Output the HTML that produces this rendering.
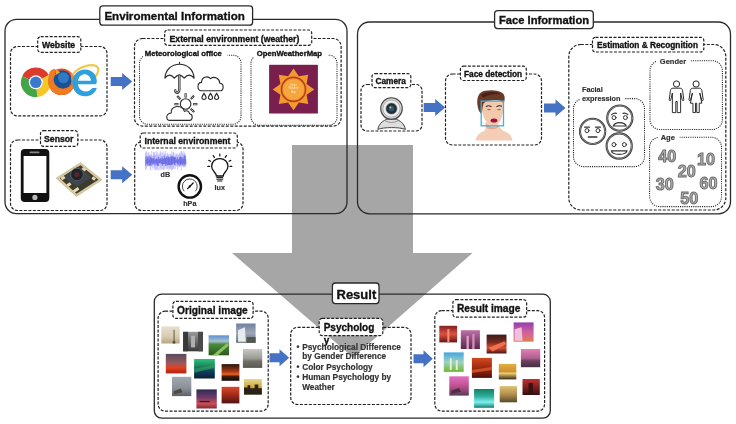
<!DOCTYPE html>
<html><head><meta charset="utf-8">
<style>
html,body{margin:0;padding:0;background:#fff;width:736px;height:424px;overflow:hidden}
svg{display:block;position:absolute;left:0;top:0;will-change:transform}
text{font-family:"Liberation Sans",sans-serif;font-weight:bold;fill:#111;stroke:#111;stroke-width:0.33}
.solid{fill:none;stroke:#2a2a2a;stroke-width:1.3}
.dash{fill:none;stroke:#222;stroke-width:1.2;stroke-dasharray:3 1.5}
.dot{fill:none;stroke:#222;stroke-width:1.05;stroke-dasharray:1.1 1.1}
.lab{fill:#fff;stroke:#222;stroke-width:1.2;stroke-dasharray:3 1.5}
.tit{fill:#fff;stroke:#2a2a2a;stroke-width:1.3}
.ba{fill:#4472c4}
</style></head><body>
<svg width="736" height="424" viewBox="0 0 736 424">
<!-- big gray arrow -->
<polygon points="292,145 413,145 413,253 472.5,253 353,357.5 232,253 292,253" fill="#a6a6a6"/>

<!-- outer boxes -->
<rect class="solid" x="5" y="19.4" width="342" height="194.2" rx="11.5"/>
<rect class="solid" x="357.5" y="22" width="373" height="191.8" rx="12"/>
<rect class="solid" x="154.3" y="294.2" width="396" height="124" rx="7.5"/>

<!-- dashed boxes env -->
<rect class="dash" x="10.5" y="46.5" width="96.5" height="69.4" rx="7"/>
<rect class="dash" x="10.5" y="140" width="96.5" height="70.5" rx="7"/>
<rect class="dash" x="134.5" y="38.5" width="206.6" height="87.6" rx="8"/>
<rect class="dash" x="134.7" y="142" width="108.3" height="68.5" rx="7"/>
<!-- dotted -->
<rect class="dot" x="139.5" y="55.2" width="101.5" height="69" rx="8"/>
<rect class="dot" x="251" y="55.2" width="86" height="70" rx="8"/>

<!-- face info dashed -->
<rect class="dash" x="361" y="84.5" width="61" height="46.5" rx="6"/>
<rect class="dash" x="445.5" y="74" width="96" height="71" rx="7"/>
<rect class="dash" x="568.8" y="44.5" width="157" height="165.5" rx="12"/>
<rect class="dot" x="573.5" y="98.6" width="71" height="68" rx="10"/>
<rect class="dot" x="650" y="60.7" width="72.4" height="68.8" rx="10"/>
<rect class="dot" x="649.6" y="137.3" width="71.9" height="69.3" rx="10"/>

<!-- result dashed -->
<rect class="dash" x="158.1" y="311.2" width="110.1" height="99.9" rx="7"/>
<rect class="dash" x="290.7" y="327.3" width="120.3" height="77.2" rx="7"/>
<rect class="dash" x="434.8" y="310.6" width="109.8" height="100.5" rx="7"/>

<!-- titles -->
<rect class="tit" x="99.8" y="5.9" width="152.8" height="19.3" rx="3"/>
<text x="104.4" y="20" font-size="11.6">Enviromental Information</text>
<rect class="tit" x="494.6" y="10.6" width="98.7" height="18" rx="3"/>
<text x="499" y="24" font-size="11.2">Face Information</text>
<rect class="tit" x="332.4" y="283" width="46.6" height="20.6" rx="3"/>
<text x="336.5" y="298.5" font-size="13">Result</text>

<!-- labels -->
<rect class="lab" x="37.7" y="36.7" width="43.1" height="15.7" rx="3"/>
<text x="42" y="48" font-size="8.7">Website</text>
<rect class="lab" x="40.5" y="130.6" width="37.3" height="15.8" rx="3"/>
<text x="44" y="142" font-size="8.7">Sensor</text>
<rect class="lab" x="164.6" y="30" width="147.1" height="15.3" rx="3"/>
<text x="169.5" y="41.5" font-size="8.7">External environment (weather)</text>
<rect class="lab" x="140.2" y="133" width="97.1" height="15" rx="3"/>
<text x="144.5" y="144.3" font-size="8.7">Internal environment</text>
<rect class="lab" x="372" y="73.6" width="38.8" height="14" rx="3"/>
<text x="375.5" y="84" font-size="8.3">Camera</text>
<rect class="lab" x="460.4" y="66.2" width="65.9" height="14.3" rx="3"/>
<text x="464" y="77" font-size="8.3">Face detection</text>
<rect class="lab" x="592.5" y="37.3" width="111.3" height="14.7" rx="3"/>
<text x="597" y="48" font-size="8.3">Estimation &amp; Recognition</text>
<rect class="lab" x="172.9" y="301.4" width="80.2" height="17" rx="3"/>
<text x="177" y="313.8" font-size="10.2">Original image</text>
<rect class="lab" x="452.9" y="299.7" width="73.7" height="17.4" rx="3"/>
<text x="457" y="312.3" font-size="10.2">Result image</text>
<rect class="lab" x="319.2" y="318.4" width="63.6" height="17.2" rx="3"/>
<text x="323.7" y="330.8" font-size="10">Psycholog</text>
<text x="323.7" y="343.6" font-size="10">y</text>

<!-- dotted box titles (white bg) -->
<rect x="143" y="49" width="84.5" height="9" fill="#fff"/>
<text x="144.8" y="56.3" font-size="7.7">Meteorological office</text>
<rect x="254" y="49" width="74" height="9" fill="#fff"/>
<text x="256.8" y="56.3" font-size="7.7">OpenWeatherMap</text>
<rect x="656" y="56" width="34.5" height="9" fill="#fff"/>
<text x="659.8" y="63.5" font-size="7.5" style="fill:#333;stroke:#333;stroke-width:0.18">Gender</text>
<rect x="658" y="133" width="21.5" height="9" fill="#fff"/>
<text x="660.7" y="140.2" font-size="7.5" style="fill:#333;stroke:#333;stroke-width:0.18">Age</text>
<rect x="580" y="92" width="45" height="10" fill="#fff"/>
<text x="582" y="92" font-size="7.3" style="fill:#333;stroke:#333;stroke-width:0.18">Facial</text>
<text x="582" y="100.6" font-size="7.3" style="fill:#333;stroke:#333;stroke-width:0.18">expression</text>

<!-- blue arrows -->
<g class="ba">
<polygon points="0,-4.5 11.5,-4.5 11.5,-8.5 21.5,0 11.5,8.5 11.5,4.5 0,4.5" transform="translate(110.7,81.4)"/>
<polygon points="0,-4.5 11.5,-4.5 11.5,-8.5 21.5,0 11.5,8.5 11.5,4.5 0,4.5" transform="translate(110.7,174.7)"/>
<polygon points="0,-4.5 11.5,-4.5 11.5,-8.5 21.5,0 11.5,8.5 11.5,4.5 0,4.5" transform="translate(423.7,107.6)"/>
<polygon points="0,-4.5 11.5,-4.5 11.5,-8.5 21.5,0 11.5,8.5 11.5,4.5 0,4.5" transform="translate(544,107.9)"/>
<polygon points="0,-4.5 10,-4.5 10,-8.5 19.7,0 10,8.5 10,4.5 0,4.5" transform="translate(269.5,357.7)"/>
<polygon points="0,-4.5 10,-4.5 10,-8.5 19.3,0 10,8.5 10,4.5 0,4.5" transform="translate(413.5,358.7)"/>
</g>

<!-- bullets -->
<g font-size="8.3" style="fill:#333;stroke:#333;stroke-width:0.18">
<text x="296.5" y="349.5" style="fill:#333;stroke:#333;stroke-width:0.18">•</text>
<text x="302.2" y="349.5" style="fill:#333;stroke:#333;stroke-width:0.18">Psychological Difference</text>
<text x="302.2" y="359.3" style="fill:#333;stroke:#333;stroke-width:0.18">by Gender Difference</text>
<text x="296.5" y="369.5" style="fill:#333;stroke:#333;stroke-width:0.18">•</text>
<text x="302.2" y="369.5" style="fill:#333;stroke:#333;stroke-width:0.18">Color Psychology</text>
<text x="296.5" y="379.8" style="fill:#333;stroke:#333;stroke-width:0.18">•</text>
<text x="302.2" y="379.8" style="fill:#333;stroke:#333;stroke-width:0.18">Human Psychology by</text>
<text x="302.2" y="389.6" style="fill:#333;stroke:#333;stroke-width:0.18">Weather</text>
</g>
<!-- ICONS1 -->
<g id="chrome"><path d="M35.8,82.3 L22.19,76.24 A14.9,14.9 0 0 1 48.83,75.08 Z" fill="#dc3b2c"/><path d="M35.8,82.3 L48.83,75.08 A14.9,14.9 0 0 1 37.36,97.12 Z" fill="#f5c625"/><path d="M35.8,82.3 L37.36,97.12 A14.9,14.9 0 0 1 22.19,76.24 Z" fill="#43a548"/><circle cx="35.8" cy="82.3" r="7" fill="#fff"/><circle cx="35.8" cy="82.3" r="5.8" fill="#3b78cf"/></g>
<g id="firefox">
<circle cx="61.6" cy="81.8" r="13.3" fill="#e2541c"/>
<circle cx="62.2" cy="79.6" r="9.4" fill="#1b4f96"/>
<circle cx="63.4" cy="77.8" r="5.5" fill="#2f7ac4"/>
<path d="M49.5,72 C51,69.5 53.5,68.6 55.5,69 C54.5,71 54.5,73 56,74.5 C53.8,76 53,79 54,82 C55.5,86.5 60,89.2 65,88.6 C69,88 72,85.5 73.8,82.6 C73.6,89.6 68,95 61.6,95.1 C54.2,95.2 48.3,89.2 48.3,81.8 C48.3,78.2 48.8,74.8 49.5,72 Z" fill="#f07c22"/>
<path d="M55.5,69 C57,70.2 58.6,70.4 60,72.5 C58,73.5 57,75 56,74.5 Z" fill="#f5a030"/>
<path d="M70.5,71.4 C73.5,74 75,78 74.9,81.8 C74.6,85.5 73,88.3 70,90.5 C72,86.5 72.2,82 71,77.5 Z" fill="#f28a24"/>
</g>
<g id="ie">
<path d="M72.8,74.5 C78,67 92,62.8 97,66.5 C99.5,68.6 98,73 95.5,76.5" fill="none" stroke="#f2c84a" stroke-width="2.2"/>
<path d="M95.6,84.2 H78 C78.4,88.6 81.6,91.4 85.6,91.4 C88.6,91.4 91,90 92.4,88 H96.8 C95,93.6 90.6,96.3 85,96.3 C77.5,96.3 72.2,90.4 72.2,82.8 C72.2,75.2 77.8,69.5 85,69.5 C92.4,69.5 97.2,75 96.8,82.5 Z M78.2,80.6 H90.8 C90.4,76.8 88,74.4 84.6,74.4 C81.2,74.4 78.8,76.8 78.2,80.6 Z" fill="#2f9fdd"/>
<path d="M78.2,80.6 H90.8 C90.4,76.8 88,74.4 84.6,74.4 C81.2,74.4 78.8,76.8 78.2,80.6 Z" fill="#fff"/>
</g>
<g id="phone">
<rect x="20.8" y="149.1" width="28.5" height="53" rx="4" fill="#111"/>
<rect x="23.6" y="156" width="22.8" height="37" fill="#fff"/>
<rect x="29.5" y="151.6" width="10" height="1.6" rx="0.8" fill="#888"/>
<circle cx="34.9" cy="197.4" r="2.6" fill="#bbb"/>
</g>
<g id="cammod">
<polygon points="56.2,178.2 80.6,162.7 101.8,179.8 76.4,196.4" fill="#d9caa0" stroke="#b8a878" stroke-width="0.6"/>
<polygon points="59.8,178.3 80.6,165.2 98.4,179.7 76.5,193.8" fill="#3e3b2e"/>
<polygon points="63.5,176.5 78,166.5 91.5,177 77,187" fill="#3f474c"/>
<circle cx="77" cy="174.5" r="6.3" fill="#1e2428" stroke="#5a656c" stroke-width="0.8"/>
<circle cx="77" cy="174.5" r="2.6" fill="#5a2430"/>
<g fill="#e6dab4">
<rect x="61" y="176.5" width="4" height="3" transform="rotate(-33 63 178)"/>
<rect x="67" y="183" width="4" height="3" transform="rotate(-33 69 184.5)"/>
<rect x="92" y="177" width="3.5" height="3" transform="rotate(40 93.7 178.5)"/>
<rect x="73" y="188.5" width="6" height="3" transform="rotate(-33 76 190)"/>
<rect x="82" y="168" width="4" height="2.5" transform="rotate(40 84 169.2)"/>
</g>
</g>
<!-- /ICONS1 -->
<!-- ICONS2 -->
<g id="weather" fill="none" stroke="#2a2a2a" stroke-width="1.1" stroke-linejoin="round" stroke-linecap="round">
<path d="M179.5,62.4 V64.3"/>
<path d="M164.9,78.2 C165.5,69.5 171.5,64.3 179.5,64.3 C187.5,64.3 193.5,69.5 194.1,78.2 Q189.2,72 184.2,78.2 Q179.3,72 174.3,78.2 Q169.6,72 164.9,78.2 Z" fill="#fff"/>
<path d="M179.3,75.5 V89.6 C179.3,93.6 175.4,93.8 175.2,90.4" stroke-width="2.4"/>
<path d="M179.3,75.5 V89.6 C179.3,93.6 175.4,93.8 175.2,90.4" stroke="#fff" stroke-width="0.7"/>
<path d="M201.3,90.8 H219.6 C224.2,90.8 224.4,83.6 219.8,83.3 C219.6,78.4 214.2,75.8 210.6,78.6 C207.6,75.4 201.4,77 201.6,82.4 C196.8,82.6 196.8,90.8 201.3,90.8 Z"/>
<path d="M204,93.2 C203,95 201.9,96.6 201.9,97.6 C201.9,98.8 202.8,99.5 204,99.5 C205.2,99.5 206.1,98.8 206.1,97.6 C206.1,96.6 205,95 204,93.2 Z"/>
<path d="M210.5,93.2 C209.5,95 208.4,96.6 208.4,97.6 C208.4,98.8 209.3,99.5 210.5,99.5 C211.7,99.5 212.6,98.8 212.6,97.6 C212.6,96.6 211.5,95 210.5,93.2 Z"/>
<path d="M216.6,93.2 C215.6,95 214.5,96.6 214.5,97.6 C214.5,98.8 215.4,99.5 216.6,99.5 C217.8,99.5 218.7,98.8 218.7,97.6 C218.7,96.6 217.6,95 216.6,93.2 Z"/>
<circle cx="185.6" cy="104" r="5.3"/>
<g stroke-width="2.2" stroke-linecap="butt">
<path d="M185.6,93.2 V97.4 M177.2,96 L180.4,99.2 M194,95.8 L190.8,99 M193.2,104.2 H197.4 M190.8,108.8 L194.2,112 M174.4,104.2 H178.4"/>
</g>
<g stroke="#fff" stroke-width="0.7" stroke-linecap="butt">
<path d="M185.6,93.8 V96.8 M177.8,96.6 L179.9,98.7 M193.4,96.4 L191.3,98.5 M193.8,104.2 H196.8 M191.4,109.4 L193.6,111.4 M175,104.2 H177.8"/>
</g>
<path d="M169.5,120.4 H189.5 C192.9,120.4 193.3,114.4 189.6,113.8 C189.2,111 186.4,110 184.4,111.4 C183.4,107.6 179.6,105.8 175.8,106.8 C172.6,107.6 171,110.2 171.2,113 C167.6,113 166.4,116.2 166.8,117.8 C167.2,119.6 168.2,120.4 169.5,120.4 Z" fill="#fff"/>
</g>
<g id="owm">
<rect x="269.1" y="64.8" width="48.8" height="48.7" fill="#7a1e4e"/>
<polygon id="owmrays" fill="#f39a2e" points="293.5,68.6 298.9,76.3 308.2,74.7 306.6,84.0 314.3,89.4 306.6,94.8 308.2,104.1 298.9,102.5 293.5,110.2 288.1,102.5 278.8,104.1 280.4,94.8 272.7,89.4 280.4,84.0 278.8,74.7 288.1,76.3"/>
<circle cx="293.5" cy="89.4" r="12" fill="#f39a2e" stroke="#b8401c" stroke-width="1.6"/>
<circle cx="293.5" cy="89.4" r="10.2" fill="#f5a63c"/>
<text x="293.5" y="86" font-size="2.6" text-anchor="middle" style="fill:#fde8c8;font-weight:normal;stroke:none">Open</text>
<text x="293.5" y="89.4" font-size="2.6" text-anchor="middle" style="fill:#fde8c8;font-weight:normal;stroke:none">Weather</text>
<text x="293.5" y="92.8" font-size="2.6" text-anchor="middle" style="fill:#fde8c8;font-weight:normal;stroke:none">Map</text>
</g>
<g id="internal">
<path id="wave" fill="none" stroke="#6a6af0" stroke-width="0.4" opacity="0.75" d="M145.40,152.67 V169.18 M146.00,152.03 V170.17 M146.60,150.91 V168.67 M147.20,153.52 V166.46 M147.80,156.03 V166.29 M148.40,151.89 V165.98 M149.00,152.70 V165.80 M149.60,154.95 V166.29 M150.20,154.51 V170.39 M150.80,154.97 V170.28 M151.40,151.18 V166.74 M152.00,155.30 V165.46 M152.60,156.08 V168.83 M153.20,151.60 V167.74 M153.80,152.22 V165.41 M154.40,151.98 V169.75 M155.00,154.09 V168.28 M155.60,155.10 V170.35 M156.20,150.99 V170.28 M156.80,153.21 V169.37 M157.40,151.72 V169.83 M158.00,155.60 V166.97 M158.60,154.23 V170.18 M159.20,154.36 V166.08 M159.80,152.31 V170.58 M160.40,150.67 V168.03 M161.00,152.83 V169.64 M161.60,155.79 V170.14 M162.20,151.49 V165.82 M162.80,152.63 V169.43 M163.40,155.28 V169.75 M164.00,150.60 V169.79 M164.60,153.42 V169.11 M165.20,153.88 V165.91 M165.80,150.82 V168.55 M166.40,155.61 V166.60 M167.00,154.11 V169.42 M167.60,152.45 V169.28 M168.20,154.56 V167.77 M168.80,154.48 V170.30 M169.40,156.04 V168.11 M170.00,153.55 V169.59 M170.60,154.19 V168.64 M171.20,154.17 V169.74 M171.80,150.73 V170.36 M172.40,155.19 V169.70 M173.00,152.30 V169.06 M173.60,151.81 V168.29 M174.20,152.67 V169.36 M174.80,155.95 V165.98 M175.40,154.90 V168.87 M176.00,153.51 V166.34 M176.60,154.35 V166.10 M177.20,153.54 V167.19 M177.80,154.79 V170.07 M178.40,154.57 V167.36 M179.00,154.04 V165.30 M179.60,153.10 V166.97 M180.20,151.60 V167.41 M180.80,154.07 V165.88 M181.40,150.84 V170.42 M182.00,151.19 V165.11 M182.60,152.72 V165.87 M183.20,154.03 V167.47 M183.80,150.75 V167.19 M184.40,152.82 V166.53 M185.00,153.81 V166.86 M185.60,154.52 V167.72 "/><path fill="none" stroke="#3c3cd8" stroke-width="0.5" opacity="0.9" d="M145.70,156.42 V165.90 M146.30,159.48 V164.23 M146.90,156.00 V163.00 M147.50,157.42 V164.61 M148.10,158.48 V165.81 M148.70,156.41 V163.09 M149.30,159.59 V165.65 M149.90,155.67 V165.65 M150.50,157.44 V164.97 M151.10,156.84 V165.98 M151.70,158.16 V163.18 M152.30,158.39 V164.71 M152.90,158.25 V163.68 M153.50,158.34 V164.28 M154.10,155.70 V162.68 M154.70,159.53 V165.36 M155.30,159.56 V162.76 M155.90,158.81 V165.25 M156.50,158.22 V163.84 M157.10,159.17 V165.22 M157.70,159.45 V165.91 M158.30,157.16 V165.81 M158.90,157.42 V163.69 M159.50,159.29 V163.12 M160.10,158.95 V162.77 M160.70,157.98 V163.43 M161.30,157.78 V164.08 M161.90,159.47 V164.33 M162.50,156.67 V165.92 M163.10,159.17 V164.12 M163.70,158.42 V164.19 M164.30,155.70 V164.19 M164.90,157.68 V163.62 M165.50,158.09 V166.06 M166.10,157.60 V163.78 M166.70,156.47 V165.64 M167.30,156.50 V165.03 M167.90,158.15 V165.07 M168.50,156.52 V165.02 M169.10,157.00 V164.63 M169.70,158.60 V164.95 M170.30,157.01 V165.39 M170.90,156.65 V165.50 M171.50,156.12 V165.01 M172.10,157.53 V164.45 M172.70,155.85 V164.27 M173.30,156.68 V163.20 M173.90,156.94 V164.07 M174.50,157.05 V165.12 M175.10,157.84 V164.88 M175.70,157.08 V162.75 M176.30,159.38 V163.07 M176.90,158.83 V162.72 M177.50,157.15 V164.67 M178.10,159.60 V164.02 M178.70,159.14 V165.51 M179.30,157.15 V162.93 M179.90,157.28 V165.95 M180.50,156.35 V164.85 M181.10,157.22 V164.57 M181.70,157.17 V163.83 M182.30,159.17 V164.58 M182.90,157.08 V165.72 M183.50,158.69 V163.62 M184.10,155.76 V165.80 M184.70,155.68 V164.34 M185.30,155.66 V164.32 M185.90,159.11 V164.78 "/>
<text x="165.3" y="176.8" font-size="7.2" text-anchor="middle" style="fill:#333;stroke:#333;stroke-width:0.18">dB</text>
<circle cx="189.8" cy="186.4" r="11.2" fill="#fff" stroke="#111" stroke-width="2.4"/>
<path d="M184.2,191.2 A7.4,7.4 0 1 1 195.4,191.2" fill="none" stroke="#333" stroke-width="0.9"/>
<path d="M187.6,188.6 L193.2,183" stroke="#111" stroke-width="1.3" stroke-linecap="round"/>
<circle cx="189.8" cy="186.4" r="1.1" fill="#111"/>
<text x="189.8" y="206" font-size="7.2" text-anchor="middle" style="fill:#333;stroke:#333;stroke-width:0.18">hPa</text>
<g fill="none" stroke="#111" stroke-width="1.3" stroke-linecap="round">
<path d="M216.4,176 C216.4,172.5 211.6,171.2 211.6,166.2 C211.6,161.6 215.2,158.6 219.8,158.6 C224.4,158.6 228,161.6 228,166.2 C228,171.2 223.2,172.5 223.2,176 Z"/>
<path d="M216.8,177.6 H222.8 M216.8,179.2 H222.8 M217.6,181 H222" stroke-width="1"/>
<path d="M219.8,154 V156 M213.2,155.6 L214.4,157.4 M226.4,155.6 L225.2,157.4 M208.8,160.4 L210.6,161.2 M230.8,160.4 L229,161.2 M207.8,166.4 H209.6 M230,166.4 H231.8" stroke-width="1.2"/>
</g>
<text x="219.8" y="190" font-size="7.2" text-anchor="middle" style="fill:#333;stroke:#333;stroke-width:0.18">lux</text>
</g>
<!-- /ICONS2 -->
<!-- ICONS3 -->
<g id="webcam">
<path d="M377.8,129.4 C379,123 384.5,118.6 391.6,118.6 C398.7,118.6 404.2,123 405.4,129.4 C400,127 383.2,127 377.8,129.4 Z" fill="#dedede" stroke="#444" stroke-width="1"/>
<path d="M384.5,120.5 Q391.6,124.5 398.6,120.5" fill="none" stroke="#777" stroke-width="0.7"/>
<circle cx="391.5" cy="108.6" r="10.8" fill="#d4d4d4" stroke="#444" stroke-width="1.1"/>
<circle cx="391.5" cy="108.6" r="8.6" fill="#eeeeee" stroke="#999" stroke-width="0.7"/>
<circle cx="391.5" cy="108.6" r="5.5" fill="#1f2c33" stroke="#667" stroke-width="0.6"/>
<circle cx="391.5" cy="108.6" r="3" fill="#3a5562"/>
<circle cx="390.4" cy="107.5" r="0.9" fill="#a8c8d4"/>
</g>
<g id="face">
<path d="M475.5,140.6 C476.5,135 480,132.5 484.5,131 C486,128 486,125 485.5,122 L498,122 C498.5,126 500,129 504,131 C509,133 512,136 512.4,140.6 Z" fill="#f3cdb6"/>
<path d="M485.5,123 C488,127 494,129 498.5,125.5 L498.5,127 C495,130 489,130 485.8,127 Z" fill="#e0a88c"/>
<path d="M481.2,101 C481,97 486,95 492,95 C498,95 503.5,97 503.6,102 C503.8,110 502.6,118 499,122.5 C497,124.6 495.5,125.2 494,125.2 C491.5,125.2 488.5,123.5 486,121 C483,117.5 481.4,110 481.2,101 Z" fill="#f3c9ae"/>
<path d="M478,108 C476,99 478,92 485,90.8 C491,89.6 499,90 503,93.5 C505.5,96 504.8,100 503.8,103.5 C502,100.5 499,99.5 494,100 C489,100.5 485.5,101 483.5,103.5 C482.6,106 482.4,110 481.6,114 C479.8,112.5 478.6,110.5 478,108 Z" fill="#6a3a26"/>
<path d="M481,95 C485,91.6 495,91 500.5,94 C496,93.6 489,94.2 483,97.5 Z" fill="#4a2216"/>
<path d="M485.8,106.4 Q488.6,105 491.6,106.6 M496.4,106.6 Q499.2,105 502,106.2" fill="none" stroke="#2a1a12" stroke-width="1"/>
<path d="M486.6,109.6 Q489,108.2 491.2,109.8 Q489,110.6 486.6,109.6 Z M496.8,109.8 Q499,108.2 501.4,109.6 Q499,110.6 496.8,109.8 Z" fill="#7a6050"/>
<ellipse cx="494" cy="120.6" rx="3.4" ry="2" fill="#a0103c"/>
<rect x="481.2" y="101.1" width="22.3" height="24.7" fill="none" stroke="#3fb0e0" stroke-width="1.3"/>
</g>
<g id="emoji" fill="none" stroke="#333" stroke-linecap="round">
<g stroke-width="2.1">
<circle cx="592.6" cy="131.4" r="12.6"/>
<circle cx="619.8" cy="118.1" r="12.6"/>
<circle cx="619.2" cy="146" r="12.6"/>
</g>
<g stroke="#aaa" stroke-width="0.7">
<circle cx="592.6" cy="131.4" r="12.6"/>
<circle cx="619.8" cy="118.1" r="12.6"/>
<circle cx="619.2" cy="146" r="12.6"/>
</g>
<g stroke-width="1">
<circle cx="587" cy="130.6" r="2"/><circle cx="598" cy="130.6" r="2"/>
<path d="M584.6,127.2 H589.4 M595.6,127.2 H600.4" stroke-width="1.2"/>
<path d="M588.4,137 H596.8" stroke-width="1.6"/>
<circle cx="614" cy="117.6" r="2"/><circle cx="625.4" cy="117.6" r="2"/>
<path d="M611.6,114.6 Q614,112.6 616.4,113.4 M623,113.4 Q625.6,112.6 627.8,114.6" stroke-width="1.2"/>
<path d="M613.4,126 C615,121.6 624.4,121.6 626.2,126 Z" stroke-width="1.2"/>
<circle cx="614" cy="144.6" r="2"/><circle cx="624.4" cy="144.6" r="2"/>
<path d="M611.4,150.8 H627 C626.4,155.6 612,155.6 611.4,150.8 Z" stroke-width="1.2"/>
</g>
</g>
<g id="gender" fill="#fff" stroke="#222" stroke-width="1" stroke-linejoin="round">
<circle cx="676.5" cy="84" r="3.1"/>
<g transform="translate(676.5,0) scale(0.88,1) translate(-676.5,0)"><path d="M672.4,88.2 H680.6 C682.4,88.2 683,89 683.4,90.5 L684.8,99.8 C684.9,100.7 683.4,101 683.1,100.1 L681.2,93 V112.6 H677.3 V101.5 H675.7 V112.6 H671.8 V93 L669.9,100.1 C669.6,101 668.1,100.7 668.2,99.8 L669.6,90.5 C670,89 670.6,88.2 672.4,88.2 Z"/></g>
<circle cx="696.1" cy="84" r="3.1"/>
<g transform="translate(696.1,0) scale(0.9,1) translate(-696.1,0)"><path d="M692.4,88.2 H699.8 C701.4,88.2 702,89 702.5,90.5 L704,99.8 C704.1,100.7 702.6,101 702.3,100.1 L700.2,93 L702.4,103.2 H699.6 V112.6 H696.8 V103.2 H695.4 V112.6 H692.6 V103.2 H689.8 L692,93 L689.9,100.1 C689.6,101 688.1,100.7 688.2,99.8 L689.7,90.5 C690.2,89 690.8,88.2 692.4,88.2 Z"/></g>
</g>
<g id="age" font-size="16.2" style="fill:#b0b0b0;stroke:#6a6a6a;stroke-width:0.9" stroke="#6e6e6e" stroke-width="0.7">
<text x="658.3" y="162.3" style="fill:#b0b0b0;stroke:#6a6a6a;stroke-width:0.9">40</text>
<text x="697.1" y="164.8" style="fill:#b0b0b0;stroke:#6a6a6a;stroke-width:0.9">10</text>
<text x="677.8" y="177.2" style="fill:#b0b0b0;stroke:#6a6a6a;stroke-width:0.9">20</text>
<text x="655.8" y="190.4" style="fill:#b0b0b0;stroke:#6a6a6a;stroke-width:0.9">30</text>
<text x="699.6" y="188.7" style="fill:#b0b0b0;stroke:#6a6a6a;stroke-width:0.9">60</text>
<text x="680.2" y="204.4" style="fill:#b0b0b0;stroke:#6a6a6a;stroke-width:0.9">50</text>
</g>
<!-- /ICONS3 -->
<!-- PHOTOS -->
<defs><linearGradient id="pg1" x1="0" y1="0" x2="0" y2="1"><stop offset="0" stop-color="#e6e0d0"/><stop offset="0.6" stop-color="#d8ccb0"/><stop offset="1" stop-color="#b8a680"/></linearGradient><linearGradient id="pg2" x1="0" y1="0" x2="0" y2="1"><stop offset="0" stop-color="#9a9a9a"/><stop offset="0.5" stop-color="#6a6a6a"/><stop offset="1" stop-color="#3a3a3a"/></linearGradient><linearGradient id="pg3" x1="0" y1="0" x2="0" y2="1"><stop offset="0" stop-color="#5a90d0"/><stop offset="0.3" stop-color="#a8c0d0"/><stop offset="0.45" stop-color="#4a8a3a"/><stop offset="1" stop-color="#2a5a20"/></linearGradient><linearGradient id="pg4" x1="0" y1="0" x2="0" y2="1"><stop offset="0" stop-color="#7080a0"/><stop offset="0.5" stop-color="#a0a8b8"/><stop offset="1" stop-color="#606a70"/></linearGradient><linearGradient id="pg5" x1="0" y1="0" x2="0" y2="1"><stop offset="0" stop-color="#5a4a60"/><stop offset="0.5" stop-color="#9a5a5a"/><stop offset="0.7" stop-color="#e84020"/><stop offset="1" stop-color="#b02010"/></linearGradient><linearGradient id="pg6" x1="0" y1="0" x2="0" y2="1"><stop offset="0" stop-color="#30c080"/><stop offset="0.35" stop-color="#1a8a5a"/><stop offset="0.6" stop-color="#104060"/><stop offset="1" stop-color="#0a2030"/></linearGradient><linearGradient id="pg7" x1="0" y1="0" x2="0" y2="1"><stop offset="0" stop-color="#2a1410"/><stop offset="0.45" stop-color="#a83a18"/><stop offset="0.6" stop-color="#f06020"/><stop offset="0.75" stop-color="#3a1a10"/><stop offset="1" stop-color="#1a0a08"/></linearGradient><linearGradient id="pg8" x1="0" y1="0" x2="0" y2="1"><stop offset="0" stop-color="#c8c8c4"/><stop offset="0.5" stop-color="#9a9a94"/><stop offset="0.65" stop-color="#707068"/><stop offset="1" stop-color="#585850"/></linearGradient><linearGradient id="pg9" x1="0" y1="0" x2="0" y2="1"><stop offset="0" stop-color="#a0a8b0"/><stop offset="0.6" stop-color="#8a9098"/><stop offset="1" stop-color="#5a6068"/></linearGradient><linearGradient id="pg10" x1="0" y1="0" x2="0" y2="1"><stop offset="0" stop-color="#302a50"/><stop offset="0.4" stop-color="#6a3a6a"/><stop offset="0.75" stop-color="#d04a50"/><stop offset="1" stop-color="#7a2a40"/></linearGradient><linearGradient id="pg11" x1="0" y1="0" x2="0" y2="1"><stop offset="0" stop-color="#d84a2a"/><stop offset="0.5" stop-color="#a02a18"/><stop offset="1" stop-color="#501410"/></linearGradient><linearGradient id="pg12" x1="0" y1="0" x2="0" y2="1"><stop offset="0" stop-color="#e8d890"/><stop offset="0.5" stop-color="#d0a840"/><stop offset="1" stop-color="#604820"/></linearGradient><linearGradient id="pg13" x1="0" y1="0" x2="0" y2="1"><stop offset="0" stop-color="#802020"/><stop offset="0.5" stop-color="#e05040"/><stop offset="1" stop-color="#601818"/></linearGradient><linearGradient id="pg14" x1="0" y1="0" x2="0" y2="1"><stop offset="0" stop-color="#c070a8"/><stop offset="0.5" stop-color="#8a4a78"/><stop offset="1" stop-color="#5a2a48"/></linearGradient><linearGradient id="pg15" x1="0" y1="0" x2="0" y2="1"><stop offset="0" stop-color="#3a1a1a"/><stop offset="0.4" stop-color="#7a2a20"/><stop offset="0.7" stop-color="#d85030"/><stop offset="1" stop-color="#401818"/></linearGradient><linearGradient id="pg16" x1="0" y1="0" x2="0" y2="1"><stop offset="0" stop-color="#9040b0"/><stop offset="0.5" stop-color="#d060a0"/><stop offset="1" stop-color="#e08050"/></linearGradient><linearGradient id="pg17" x1="0" y1="0" x2="0" y2="1"><stop offset="0" stop-color="#40a8e0"/><stop offset="0.5" stop-color="#a0d0c0"/><stop offset="1" stop-color="#70b830"/></linearGradient><linearGradient id="pg18" x1="0" y1="0" x2="0" y2="1"><stop offset="0" stop-color="#d04a20"/><stop offset="0.5" stop-color="#a02810"/><stop offset="1" stop-color="#501008"/></linearGradient><linearGradient id="pg19" x1="0" y1="0" x2="0" y2="1"><stop offset="0" stop-color="#e0b040"/><stop offset="0.5" stop-color="#d09030"/><stop offset="0.6" stop-color="#f0d070"/><stop offset="1" stop-color="#3a2a18"/></linearGradient><linearGradient id="pg20" x1="0" y1="0" x2="0" y2="1"><stop offset="0" stop-color="#e080b0"/><stop offset="0.5" stop-color="#b06090"/><stop offset="0.65" stop-color="#704060"/><stop offset="1" stop-color="#403040"/></linearGradient><linearGradient id="pg21" x1="0" y1="0" x2="0" y2="1"><stop offset="0" stop-color="#e070c0"/><stop offset="0.5" stop-color="#c05090"/><stop offset="1" stop-color="#5a3a58"/></linearGradient><linearGradient id="pg22" x1="0" y1="0" x2="0" y2="1"><stop offset="0" stop-color="#108060"/><stop offset="0.4" stop-color="#30b0a0"/><stop offset="0.7" stop-color="#80f0f0"/><stop offset="1" stop-color="#108070"/></linearGradient><linearGradient id="pg23" x1="0" y1="0" x2="0" y2="1"><stop offset="0" stop-color="#e0c070"/><stop offset="0.5" stop-color="#b09050"/><stop offset="1" stop-color="#5a4a28"/></linearGradient><linearGradient id="pg24" x1="0" y1="0" x2="0" y2="1"><stop offset="0" stop-color="#c03030"/><stop offset="0.5" stop-color="#802020"/><stop offset="1" stop-color="#301010"/></linearGradient></defs>
<g id="photos"><g transform="translate(161.3,326.4) scale(18.40,17.10)"><rect x="0" y="0" width="1" height="1" fill="url(#pg1)"/><rect x="0.67" y="0.2" width="0.045" height="0.8" fill="#4a4030"/><rect x="0.62" y="0.85" width="0.14" height="0.15" fill="#5a5040"/></g>
<g transform="translate(183.1,331.8) scale(19.90,19.50)"><rect x="0" y="0" width="1" height="1" fill="url(#pg2)"/><rect x="0" y="0" width="0.25" height="1" fill="#3a3a3a"/><rect x="0.75" y="0" width="0.25" height="1" fill="#4a4a4a"/><rect x="0.4" y="0.2" width="0.2" height="0.6" fill="#b0b0b0"/></g>
<g transform="translate(208.6,335.3) scale(20.40,20.00)"><rect x="0" y="0" width="1" height="1" fill="url(#pg3)"/><polygon points="0.2,1 0.9,0.4 1,0.5 0.45,1" fill="#8ac060"/></g>
<g transform="translate(236.1,323.5) scale(19.50,19.30)"><rect x="0" y="0" width="1" height="1" fill="url(#pg4)"/><polygon points="0.1,0.35 0.45,0.2 0.5,0.95 0.1,0.95" fill="#e8ecf0"/><rect x="0.55" y="0.7" width="0.45" height="0.3" fill="#505850"/></g>
<g transform="translate(165.8,353.9) scale(20.60,19.50)"><rect x="0" y="0" width="1" height="1" fill="url(#pg5)"/></g>
<g transform="translate(194.1,359) scale(20.70,19.50)"><rect x="0" y="0" width="1" height="1" fill="url(#pg6)"/><polygon points="0,0.5 1,0.3 1,0.45 0,0.7" fill="#30a060" opacity="0.7"/></g>
<g transform="translate(221.6,364.1) scale(17.80,16.70)"><rect x="0" y="0" width="1" height="1" fill="url(#pg7)"/></g>
<g transform="translate(242.9,349) scale(19.30,18.90)"><rect x="0" y="0" width="1" height="1" fill="url(#pg8)"/></g>
<g transform="translate(172,376.8) scale(19.30,19.30)"><rect x="0" y="0" width="1" height="1" fill="url(#pg9)"/><polygon points="0.1,0.75 0.45,0.6 0.55,0.8 0.1,0.9" fill="#4a4a48"/></g>
<g transform="translate(196.4,389.4) scale(20.40,19.10)"><rect x="0" y="0" width="1" height="1" fill="url(#pg10)"/><rect x="0.15" y="0.6" width="0.5" height="0.07" fill="#302030"/></g>
<g transform="translate(221.6,386.8) scale(17.80,16.60)"><rect x="0" y="0" width="1" height="1" fill="url(#pg11)"/></g>
<g transform="translate(244,379) scale(17.80,15.50)"><rect x="0" y="0" width="1" height="1" fill="url(#pg12)"/><polygon points="0,1 0,0.55 0.2,0.55 0.2,0.4 0.35,0.4 0.35,0.6 0.6,0.6 0.6,0.35 0.8,0.35 0.8,0.6 1,0.6 1,1" fill="#2a2218"/></g>
<g transform="translate(439.3,325.8) scale(17.80,16.60)"><rect x="0" y="0" width="1" height="1" fill="url(#pg13)"/><rect x="0.45" y="0.2" width="0.12" height="0.8" fill="#f09070"/></g>
<g transform="translate(460.8,330.2) scale(19.10,18.80)"><rect x="0" y="0" width="1" height="1" fill="url(#pg14)"/><rect x="0.3" y="0.3" width="0.12" height="0.7" fill="#e0a0c8"/><rect x="0.6" y="0.2" width="0.12" height="0.8" fill="#d090b8"/></g>
<g transform="translate(486.6,334.6) scale(19.90,18.90)"><rect x="0" y="0" width="1" height="1" fill="url(#pg15)"/><polygon points="0.1,0.7 0.9,0.35 1,0.5 0.3,0.9" fill="#f07050"/></g>
<g transform="translate(513.6,322.4) scale(20.00,19.30)"><rect x="0" y="0" width="1" height="1" fill="url(#pg16)"/><polygon points="0.05,0.35 0.4,0.25 0.45,0.95 0.05,0.95" fill="#f0c0e0"/></g>
<g transform="translate(443.8,352.4) scale(19.90,19.50)"><rect x="0" y="0" width="1" height="1" fill="url(#pg17)"/><rect x="0.3" y="0.3" width="0.1" height="0.6" fill="#e0f0d0"/><rect x="0.6" y="0.4" width="0.1" height="0.5" fill="#e0f0d0"/></g>
<g transform="translate(471.9,357.9) scale(20.00,20.00)"><rect x="0" y="0" width="1" height="1" fill="url(#pg18)"/><polygon points="0,0.6 1,0.45 1,0.6 0,0.75" fill="#e86030" opacity="0.7"/></g>
<g transform="translate(498.8,363.9) scale(17.50,15.50)"><rect x="0" y="0" width="1" height="1" fill="url(#pg19)"/></g>
<g transform="translate(520.9,349) scale(19.30,18.20)"><rect x="0" y="0" width="1" height="1" fill="url(#pg20)"/></g>
<g transform="translate(449.3,376.3) scale(19.50,19.30)"><rect x="0" y="0" width="1" height="1" fill="url(#pg21)"/><polygon points="0.1,0.75 0.5,0.6 0.6,0.8 0.1,0.9" fill="#4a3040"/></g>
<g transform="translate(474.1,389) scale(20.00,18.80)"><rect x="0" y="0" width="1" height="1" fill="url(#pg22)"/></g>
<g transform="translate(499.7,386.1) scale(17.30,16.20)"><rect x="0" y="0" width="1" height="1" fill="url(#pg23)"/></g>
<g transform="translate(522.5,379) scale(17.30,16.00)"><rect x="0" y="0" width="1" height="1" fill="url(#pg24)"/><rect x="0.35" y="0.25" width="0.25" height="0.75" fill="#3a1010"/></g></g>
<!-- /PHOTOS -->
</svg>
</body></html>
